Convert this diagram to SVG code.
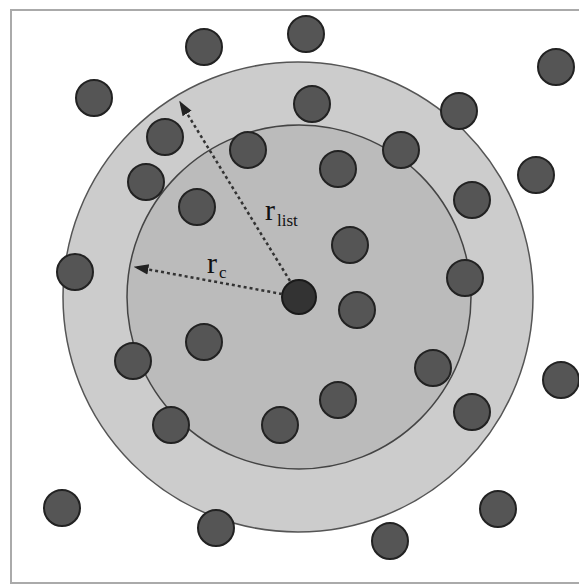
<svg xmlns="http://www.w3.org/2000/svg" width="579" height="585" viewBox="0 0 579 585">
<defs>
<style>
.p{fill:#555;stroke:#222;stroke-width:2}
.a{fill:none;stroke:#333;stroke-width:2.5;stroke-dasharray:3 3}
.t{font-family:"Liberation Serif","DejaVu Serif",serif;fill:#111}
</style>
<marker id="ah" viewBox="0 0 10 10" refX="9" refY="5" markerWidth="6" markerHeight="6" orient="auto" markerUnits="strokeWidth"><path d="M0,1.5 L10,5 L0,8.5 Z" fill="#222"/></marker>
</defs>
<rect x="0" y="0" width="579" height="585" fill="#fff"/>
<rect x="11" y="10" width="570" height="573" fill="#fff" stroke="#aaa" stroke-width="2"/>
<g id="list-region"><circle cx="298" cy="297" r="235" fill="#ccc" stroke="#555" stroke-width="1.5"/></g>
<g id="cutoff-region"><circle cx="299" cy="297" r="172" fill="#bbb" stroke="#444" stroke-width="1.5"/></g>
<g id="particles">
<circle class="p" cx="204" cy="47" r="18"/>
<circle class="p" cx="306" cy="34" r="18"/>
<circle class="p" cx="556" cy="67" r="18"/>
<circle class="p" cx="94" cy="98" r="18"/>
<circle class="p" cx="312" cy="104" r="18"/>
<circle class="p" cx="459" cy="111" r="18"/>
<circle class="p" cx="165" cy="137" r="18"/>
<circle class="p" cx="248" cy="150" r="18"/>
<circle class="p" cx="401" cy="150" r="18"/>
<circle class="p" cx="338" cy="169" r="18"/>
<circle class="p" cx="536" cy="175" r="18"/>
<circle class="p" cx="146" cy="182" r="18"/>
<circle class="p" cx="197" cy="207" r="18"/>
<circle class="p" cx="472" cy="200" r="18"/>
<circle class="p" cx="350" cy="245" r="18"/>
<circle class="p" cx="75" cy="272" r="18"/>
<circle class="p" cx="465" cy="278" r="18"/>
<circle class="p" cx="357" cy="310" r="18"/>
<circle class="p" cx="204" cy="342" r="18"/>
<circle class="p" cx="133" cy="361" r="18"/>
<circle class="p" cx="433" cy="368" r="18"/>
<circle class="p" cx="561" cy="380" r="18"/>
<circle class="p" cx="338" cy="400" r="18"/>
<circle class="p" cx="472" cy="412" r="18"/>
<circle class="p" cx="171" cy="425" r="18"/>
<circle class="p" cx="280" cy="425" r="18"/>
<circle class="p" cx="62" cy="508" r="18"/>
<circle class="p" cx="216" cy="528" r="18"/>
<circle class="p" cx="498" cy="509" r="18"/>
<circle class="p" cx="390" cy="541" r="18"/>
</g>
<g id="center"><circle cx="299" cy="297" r="17" fill="#333" stroke="#1a1a1a" stroke-width="2"/></g>
<g id="connectors">
<line class="a" x1="290" y1="281" x2="180" y2="102" marker-end="url(#ah)"/>
<line class="a" x1="282" y1="294" x2="135" y2="267" marker-end="url(#ah)"/>
</g>
<g id="labels">
<text class="t" x="265" y="220" font-size="30">r<tspan font-size="17" dx="2" dy="6">list</tspan></text>
<text class="t" x="207" y="273" font-size="30">r<tspan font-size="17" dx="2" dy="5">c</tspan></text>
</g>
</svg>
